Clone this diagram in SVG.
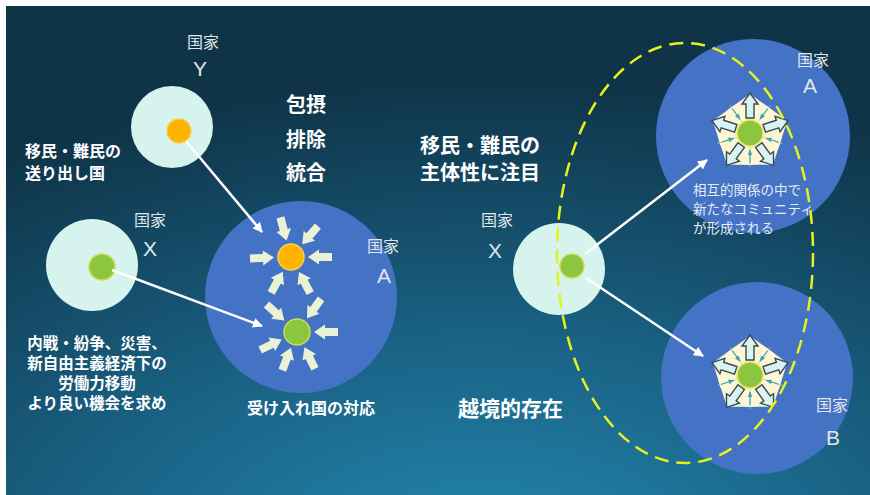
<svg xmlns="http://www.w3.org/2000/svg" xmlns:xlink="http://www.w3.org/1999/xlink" width="870" height="495" viewBox="0 0 870 495">
<defs>
<radialGradient id="bg" cx="0.55" cy="1.15" r="1.0">
<stop offset="0" stop-color="#2489b0"/>
<stop offset="0.45" stop-color="#1a6487"/>
<stop offset="1" stop-color="#0f3448"/>
</radialGradient>
<marker id="ah" viewBox="0 0 10 10" refX="9" refY="5" markerWidth="4" markerHeight="4" orient="auto">
<path d="M0,0 L10,5 L0,10 Z" fill="#ffffff"/>
</marker>
<marker id="sm" viewBox="0 0 10 10" refX="9" refY="5" markerWidth="5" markerHeight="5" orient="auto">
<path d="M0,1 L10,5 L0,9 Z" fill="#3fa3a6"/>
</marker>
<path id="ia" d="M17,0 L28,-7.5 L28,-4 L41,-4 L41,4 L28,4 L28,7.5 Z"/>
<path id="oa" d="M0,-40 L8,-29 L4,-29 L4,-15 L-4,-15 L-4,-29 L-8,-29 Z"/>
<g id="comm">
<polygon points="0,-33 31.4,-10.2 19.4,26.7 -19.4,26.7 -31.4,-10.2" fill="#fbf6d6" stroke="#fbf6d6" stroke-width="10" stroke-linejoin="round"/>
<circle r="32" fill="#fbf6d6"/>
<g stroke="#b9d6b0" stroke-width="0.8" fill="none">
<line x1="0" y1="0" x2="0" y2="-34" transform="rotate(36)"/>
<line x1="0" y1="0" x2="0" y2="-34" transform="rotate(108)"/>
<line x1="0" y1="0" x2="0" y2="-34" transform="rotate(180)"/>
<line x1="0" y1="0" x2="0" y2="-34" transform="rotate(252)"/>
<line x1="0" y1="0" x2="0" y2="-34" transform="rotate(324)"/>
</g>
<g stroke="#3fa3a6" stroke-width="1.2" fill="none" marker-end="url(#sm)">
<line x1="0" y1="-30" x2="0" y2="-17" transform="rotate(36)"/>
<line x1="0" y1="-30" x2="0" y2="-17" transform="rotate(108)"/>
<line x1="0" y1="-30" x2="0" y2="-17" transform="rotate(180)"/>
<line x1="0" y1="-30" x2="0" y2="-17" transform="rotate(252)"/>
<line x1="0" y1="-30" x2="0" y2="-17" transform="rotate(324)"/>
</g>
<circle r="13" fill="#8cc63e" stroke="#f1e45a" stroke-width="1.5"/>
<g fill="#d8f3f1" stroke="#3b4752" stroke-width="1.4" stroke-linejoin="miter">
<use xlink:href="#oa"/>
<use xlink:href="#oa" transform="rotate(72)"/>
<use xlink:href="#oa" transform="rotate(144)"/>
<use xlink:href="#oa" transform="rotate(216)"/>
<use xlink:href="#oa" transform="rotate(288)"/>
</g>
</g>
</defs>
<style>
.t{font-family:"Noto Sans CJK JP","Noto Sans CJK SC",sans-serif;fill:#ffffff}
.b{font-weight:700}
.lbl{fill:#e2e6ea;font-size:16px}
.lat{font-family:"Liberation Sans",Arial,sans-serif;fill:#e2e6ea;font-size:21px}
.mint{fill:#d6f3ee}
.blue{fill:#4472c4}
.conn{stroke:#ffffff;stroke-width:2.5;fill:none;marker-end:url(#ah)}
.ia{fill:#eaf2d5}
.orange{fill:#ffb300;stroke:#f5d44a;stroke-width:1.5}
.green{fill:#8cc63e;stroke:#cbdc52;stroke-width:1.5}
.note{fill:#e4ecf7;font-size:13.5px}
</style>
<rect width="870" height="495" fill="#ffffff"/>
<rect x="6" y="6" width="864" height="489" fill="url(#bg)"/>

<g id="countryY">
<circle class="mint" cx="172" cy="127" r="41"/>
<circle class="orange" cx="179" cy="131" r="12"/>
<text class="t lbl" x="203" y="48" text-anchor="middle">国家</text>
<text class="lat" x="200" y="76" text-anchor="middle">Y</text>
<text class="t b" font-size="16" x="25" y="157">移民・難民の</text>
<text class="t b" font-size="16" x="25" y="179">送り出し国</text>
</g>

<g id="countryX-left">
<circle class="mint" cx="92" cy="265" r="46"/>
<circle class="green" cx="102" cy="267" r="13"/>
<text class="t lbl" x="150" y="226" text-anchor="middle">国家</text>
<text class="lat" x="150" y="256" text-anchor="middle">X</text>
<text class="t b" font-size="15.5" text-anchor="middle"><tspan x="97" y="349">内戦・紛争、災害、</tspan><tspan x="97" y="369">新自由主義経済下の</tspan><tspan x="97" y="389">労働力移動</tspan><tspan x="97" y="409">より良い機会を求め</tspan></text>
</g>

<g id="countryA-left">
<circle class="blue" cx="301" cy="297" r="96"/>
<text class="t lbl" x="383" y="252" text-anchor="middle">国家</text>
<text class="lat" x="384" y="283" text-anchor="middle">A</text>
<circle class="orange" cx="291" cy="257" r="13"/>
<g class="ia">
<use xlink:href="#ia" transform="translate(291,257) rotate(-105)"/>
<use xlink:href="#ia" transform="translate(291,257) rotate(-49)"/>
<use xlink:href="#ia" transform="translate(291,257) rotate(178)"/>
<use xlink:href="#ia" transform="translate(291,257) rotate(0)"/>
<use xlink:href="#ia" transform="translate(291,257) rotate(119)"/>
<use xlink:href="#ia" transform="translate(291,257) rotate(62)"/>
</g>
<circle class="green" cx="297" cy="332" r="13"/>
<g class="ia">
<use xlink:href="#ia" transform="translate(297,332) rotate(-138)"/>
<use xlink:href="#ia" transform="translate(297,332) rotate(-54)"/>
<use xlink:href="#ia" transform="translate(297,332) rotate(0)"/>
<use xlink:href="#ia" transform="translate(297,332) rotate(154)"/>
<use xlink:href="#ia" transform="translate(297,332) rotate(111)"/>
<use xlink:href="#ia" transform="translate(297,332) rotate(64)"/>
</g>
<text class="t b" font-size="16" x="311" y="414" text-anchor="middle">受け入れ国の対応</text>
</g>

<g id="policy-labels">
<text class="t b" font-size="20" x="306" y="112" text-anchor="middle">包摂</text>
<text class="t b" font-size="20" x="306" y="147" text-anchor="middle">排除</text>
<text class="t b" font-size="20" x="306" y="180" text-anchor="middle">統合</text>
</g>

<g id="countryA-right">
<circle class="blue" cx="753" cy="136" r="97"/>
<text class="t lbl" x="813" y="66" text-anchor="middle">国家</text>
<text class="lat" x="810" y="93" text-anchor="middle">A</text>
<use xlink:href="#comm" transform="translate(750,133)"/>
<text class="t note"><tspan x="693" y="195">相互的関係の中で</tspan><tspan x="693" y="214">新たなコミュニティ</tspan><tspan x="693" y="233">が形成される</tspan></text>
</g>

<g id="countryB">
<circle class="blue" cx="757" cy="378" r="96"/>
<text class="t lbl" x="832" y="411" text-anchor="middle">国家</text>
<text class="lat" x="833" y="445" text-anchor="middle">B</text>
<use xlink:href="#comm" transform="translate(750,375)"/>
</g>

<g id="countryX-right">
<circle class="mint" cx="559" cy="269" r="46"/>
<circle class="green" cx="572" cy="266" r="12"/>
<text class="t lbl" x="497" y="226" text-anchor="middle">国家</text>
<text class="lat" x="495" y="258" text-anchor="middle">X</text>
</g>

<g id="transnational">
<ellipse cx="685" cy="253" rx="128" ry="210" fill="none" stroke="#e6f21e" stroke-width="2.5" stroke-dasharray="14 8"/>
<text class="t b" font-size="20" x="420" y="153">移民・難民の</text>
<text class="t b" font-size="20" x="420" y="180">主体性に注目</text>
<text class="t b" font-size="21" x="458" y="416">越境的存在</text>
</g>

<g id="connectors">
<line class="conn" x1="186" y1="141" x2="262" y2="232"/>
<line class="conn" x1="112" y1="270" x2="262" y2="326"/>
<line class="conn" x1="585" y1="254" x2="707" y2="160"/>
<line class="conn" x1="586" y1="278" x2="703" y2="356"/>
</g>
</svg>
